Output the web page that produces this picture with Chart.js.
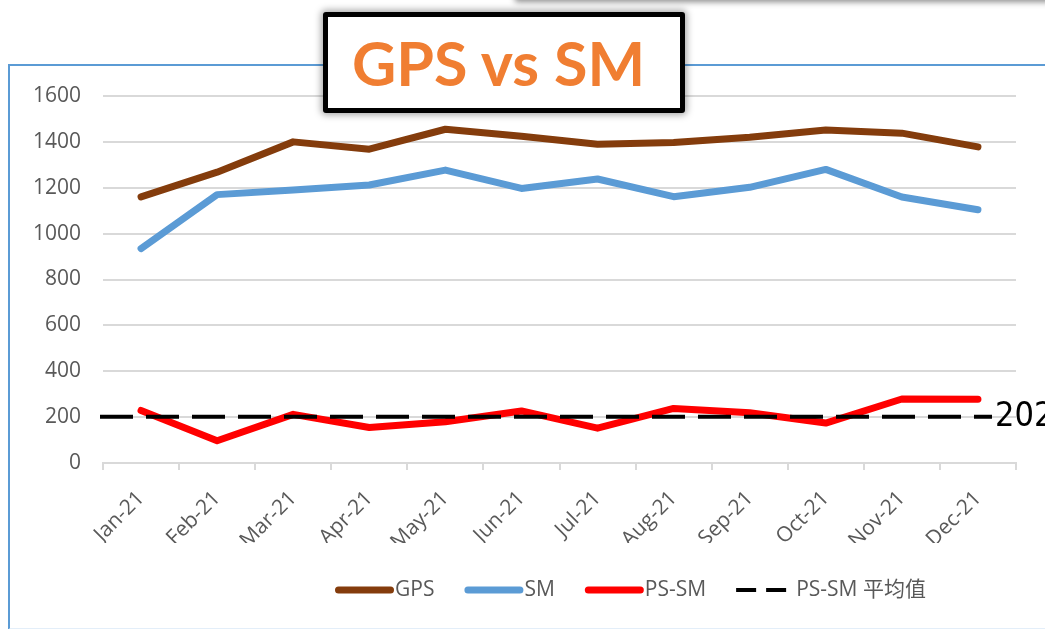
<!DOCTYPE html>
<html>
<head>
<meta charset="utf-8">
<script src="https://cdn.jsdelivr.net/npm/chart.js@4/dist/chart.umd.min.js"></script>
<style>
  body { margin: 0; background: #fff; }
  #page { position: relative; width: 1045px; height: 629px; overflow: hidden; background: #fff; }
  #topShade { position: absolute; left: 515px; top: -30px; width: 600px; height: 30px; background: #fff; box-shadow: 0 2px 6px rgba(0,0,0,0.45); }
  #frame { position: absolute; left: 8px; top: 64px; width: 1100px; height: 562px; border: 2px solid #5B9BD5; border-bottom-color: #E3EEF9; }
  #chart { position: absolute; left: 0; top: 0; }
  #title {
    position: absolute; left: 323px; top: 12px; width: 362px; height: 101px;
    box-sizing: border-box; border: 5px solid #000; border-radius: 3px; background: #fff;
    box-shadow: 0 0 7px 2px rgba(0,0,0,0.35);
    font-family: Lato, "Open Sans", sans-serif; font-weight: 700; font-size: 61px;
    color: #F07E32; line-height: 92px; padding-left: 24px; white-space: nowrap;
  }
</style>
</head>
<body>
<div id="page">
  <div id="topShade"></div>
  <div id="frame"></div>
  <canvas id="chart" width="1045" height="629"></canvas>
  <div id="title">GPS vs SM</div>
</div>
<script>
//chart values
const months = ["Jan-21", "Feb-21", "Mar-21", "Apr-21", "May-21", "Jun-21",
                "Jul-21", "Aug-21", "Sep-21", "Oct-21", "Nov-21", "Dec-21"];
const gpsValues = [1160, 1268, 1400, 1368, 1455, 1425, 1390, 1397, 1420, 1452, 1438, 1378];
const smValues = [935, 1170, 1190, 1212, 1277, 1197, 1238, 1161, 1202, 1280, 1160, 1104];
const diffValues = [229, 97, 212, 155, 180, 227, 152, 238, 219, 174, 279, 278];
const avgValue = 202;
const avgLabel = "202";
const yTicks = { min: 0, max: 1600, step: 200 };

const tickColor = "#595959";
const gridColor = "#D9D9D9";

//dashed average line plus its end label
const avgLinePlugin = {
  id: "avgLine",
  afterDatasetsDraw(chart) {
    const { ctx, chartArea, scales } = chart;
    const y = scales.y.getPixelForValue(avgValue);
    const x0 = chartArea.left - 3;
    const x1 = chartArea.right - 24;
    ctx.save();
    ctx.strokeStyle = "#000";
    ctx.lineWidth = 4;
    ctx.setLineDash([33, 13]);
    ctx.beginPath();
    ctx.moveTo(x0, y);
    ctx.lineTo(x1, y);
    ctx.stroke();
    ctx.setLineDash([]);
    ctx.fillStyle = "#000";
    ctx.font = "34px 'Liberation Sans Narrow', 'DejaVu Sans Condensed', sans-serif";
    ctx.textBaseline = "middle";
    ctx.fillText(avgLabel, x1 + 3, y + 1);
    ctx.restore();
  }
};

//legend at the bottom, drawn by hand so the spacing matches
const legendPlugin = {
  id: "bottomLegend",
  afterDraw(chart) {
    const { ctx } = chart;
    const items = chart.data.datasets.map(d => ({
      label: d.label, color: d.borderColor, width: 7, dash: [], cap: "round"
    }));
    items.push({ label: "PS-SM 平均值", color: "#000", width: 4, dash: [20, 10], cap: "butt" });

    ctx.save();
    ctx.font = "21px 'Open Sans', 'Noto Sans CJK SC', sans-serif";
    ctx.textBaseline = "middle";
    let x = 335;
    const y = 590;
    items.forEach(it => {
      ctx.strokeStyle = it.color;
      ctx.lineWidth = it.width;
      ctx.lineCap = it.cap;
      ctx.setLineDash(it.dash);
      ctx.beginPath();
      if (it.cap === "round") {
        ctx.moveTo(x + 3.5, y);
        ctx.lineTo(x + 55.5, y);
      } else {
        ctx.moveTo(x, y);
        ctx.lineTo(x + 59, y);
      }
      ctx.stroke();
      ctx.setLineDash([]);
      ctx.fillStyle = tickColor;
      ctx.fillText(it.label, x + 60, y);
      x += 60 + ctx.measureText(it.label).width + 30;
    });
    ctx.restore();
  }
};

new Chart(document.getElementById("chart"), {
  type: "line",
  data: {
    labels: months,
    datasets: [
      { label: "GPS", data: gpsValues, borderColor: "#843C0C" },
      { label: "SM", data: smValues, borderColor: "#5B9BD5" },
      { label: "PS-SM", data: diffValues, borderColor: "#FF0000" }
    ]
  },
  options: {
    responsive: false,
    animation: false,
    layout: { padding: { left: 20, top: 96, right: 29, bottom: 86 } },
    elements: {
      line: { borderWidth: 7, tension: 0, borderCapStyle: "round", borderJoinStyle: "round", fill: false },
      point: { radius: 0, hoverRadius: 0 }
    },
    plugins: {
      legend: { display: false },
      tooltip: { enabled: false }
    },
    scales: {
      x: {
        offset: true,
        grid: { offset: true, drawOnChartArea: false, color: gridColor, lineWidth: 2, tickLength: 7 },
        border: { color: gridColor, width: 2 },
        ticks: {
          color: tickColor, font: { family: "'Open Sans', sans-serif", size: 21 },
          minRotation: 45, maxRotation: 45, padding: 16, autoSkip: false
        },
        afterFit(s) { s.height = 80; }
      },
      y: {
        min: yTicks.min, max: yTicks.max,
        grid: { color: gridColor, lineWidth: 2, drawTicks: false },
        border: { display: false },
        ticks: {
          stepSize: yTicks.step, color: tickColor, padding: 22,
          font: { family: "'Open Sans', sans-serif", size: 21 },
          callback: v => String(v)
        },
        afterFit(s) { s.width = 83; }
      }
    }
  },
  plugins: [avgLinePlugin, legendPlugin]
});
</script>
</body>
</html>
